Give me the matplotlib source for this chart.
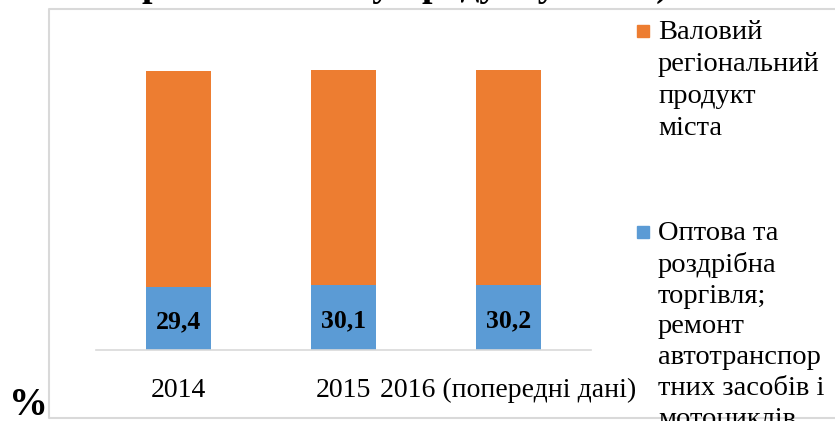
import matplotlib
matplotlib.use("Agg")
import matplotlib.pyplot as plt
from matplotlib.patches import Rectangle
from matplotlib.lines import Line2D

# Дані
roky = ["2014", "2015", "2016 (попередні дані)"]
torgivlia = [29.4, 30.1, 30.2]
vrp = [100, 100, 100]
pidpysy = ["29,4", "30,1", "30,2"]

nazva_vrp = "Валовий\nрегіональний\nпродукт\nміста"
nazva_torg = "Оптова та\nроздрібна\nторгівля;\nремонт\nавтотранспор\nтних засобів і\nмотоциклів"

kolir_vrp = "#ED7D31"
kolir_torg = "#5B9BD5"

plt.rcParams['font.family'] = ['Liberation Serif', 'DejaVu Serif']

W, H = 835, 421
fig = plt.figure(figsize=(W / 100, H / 100), dpi=100)

# Рамка області діаграми (права частина обрізана): верх, ліво, низ
l, r, t, b = 49 / W, 1.0, 1 - 9 / H, 1 - 418 / H
fig.add_artist(Line2D([r, l, l, r], [t, t, b, b], transform=fig.transFigure,
                      color="#d9d9d9", linewidth=1.5, zorder=0))

ax = fig.add_axes([96 / W, 1 - 350 / H, 495 / W, (350 - 48.6) / H])
x = range(len(roky))
ax.bar(x, torgivlia, width=0.394, color=kolir_torg, zorder=2)
ax.bar(x, vrp, width=0.394, bottom=torgivlia, color=kolir_vrp, zorder=2)

for i, t in enumerate(pidpysy):
    ax.text(i, torgivlia[i] / 2 - 1.4, t, ha="center", va="center",
            fontsize=18.5, fontweight="bold")

ax.set_xlim(-0.5, 2.5)
ax.set_ylim(0, 140)
ax.set_yticks([])
ax.set_xticks(list(x))
ax.set_xticklabels(roky, fontsize=20, va="baseline")
ax.tick_params(axis="x", length=0, pad=34)
for s in ["top", "left", "right"]:
    ax.spines[s].set_visible(False)
ax.spines["bottom"].set_color("#d9d9d9")
ax.spines["bottom"].set_linewidth(1.2)

# Легенда
fig.patches.append(Rectangle((637 / W, 1 - 37 / H), 12 / W, 12 / H,
                             transform=fig.transFigure, color=kolir_vrp))
fig.text(658 / W, 1 - 20 / H, nazva_vrp, fontsize=20.5, va="top", ha="left",
         linespacing=1.37)
fig.patches.append(Rectangle((637 / W, 1 - 238 / H), 12 / W, 12 / H,
                             transform=fig.transFigure, color=kolir_torg))
fig.text(658 / W, 1 - 221 / H, nazva_torg, fontsize=20.5, va="top", ha="left",
         linespacing=1.3)

# Обрізаний заголовок та одиниця виміру
fig.text(405 / W, 1 + 4 / H, "регіональному продукту міста)", fontsize=27,
         fontweight="bold", ha="center", va="baseline")
fig.text(9 / W, 1 - 415 / H, "%", fontsize=28, fontweight="bold",
         ha="left", va="baseline")

fig.savefig("out.png", dpi=100)
